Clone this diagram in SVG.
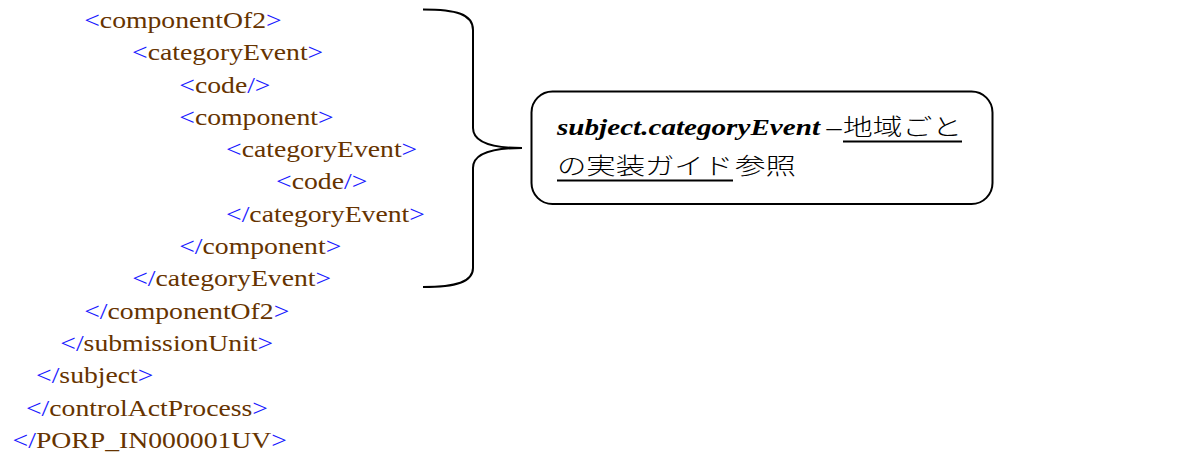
<svg xmlns="http://www.w3.org/2000/svg" width="1203" height="453" viewBox="0 0 1203 453">
<style>
.x{font-family:"Liberation Serif","Times New Roman",serif;font-size:24px;fill:#663300}
.b{fill:#1a1aff}
.bi{font-family:"Liberation Serif","Times New Roman",serif;font-size:24px;font-weight:bold;font-style:italic;fill:#000}
.r{font-family:"Liberation Serif","Times New Roman",serif;font-size:24px;fill:#000}
.cjk{font-family:"Noto Sans CJK JP","Noto Sans CJK SC",sans-serif;font-size:23px;font-weight:300;fill:#000}
.ln{fill:none;stroke:#000;stroke-width:2}
</style>
<rect width="1203" height="453" fill="#fff"/>
<g id="xml" transform="scale(1.155 1)">
<text class="x" x="72.9" y="28"><tspan class="b">&lt;</tspan>componentOf2<tspan class="b">&gt;</tspan></text>
<text class="x" x="114.3" y="60.3"><tspan class="b">&lt;</tspan>categoryEvent<tspan class="b">&gt;</tspan></text>
<text class="x" x="155.2" y="92.6"><tspan class="b">&lt;</tspan>code<tspan class="b">/&gt;</tspan></text>
<text class="x" x="155.2" y="124.9"><tspan class="b">&lt;</tspan>component<tspan class="b">&gt;</tspan></text>
<text class="x" x="195.7" y="157.2"><tspan class="b">&lt;</tspan>categoryEvent<tspan class="b">&gt;</tspan></text>
<text class="x" x="239" y="189.5"><tspan class="b">&lt;</tspan>code<tspan class="b">/&gt;</tspan></text>
<text class="x" x="195.7" y="221.8"><tspan class="b">&lt;/</tspan>categoryEvent<tspan class="b">&gt;</tspan></text>
<text class="x" x="155.2" y="254.1"><tspan class="b">&lt;/</tspan>component<tspan class="b">&gt;</tspan></text>
<text class="x" x="114.5" y="286.4"><tspan class="b">&lt;/</tspan>categoryEvent<tspan class="b">&gt;</tspan></text>
<text class="x" x="72.9" y="318.7"><tspan class="b">&lt;/</tspan>componentOf2<tspan class="b">&gt;</tspan></text>
<text class="x" x="52.2" y="351"><tspan class="b">&lt;/</tspan>submissionUnit<tspan class="b">&gt;</tspan></text>
<text class="x" x="31.2" y="383.3"><tspan class="b">&lt;/</tspan>subject<tspan class="b">&gt;</tspan></text>
<text class="x" x="22.5" y="415.6"><tspan class="b">&lt;/</tspan>controlActProcess<tspan class="b">&gt;</tspan></text>
<text class="x" x="10.9" y="447.9"><tspan class="b">&lt;/</tspan>PORP_IN000001UV<tspan class="b">&gt;</tspan></text>
</g>
<g id="connectors">
<path id="brace" class="ln" d="M423,9.5 C456,9.5 473,14 473,30 L473,128 C473,142 490,148 522,148 C490,148 473,154 473,168 L473,268 C473,282 456,287 423,287"/>
</g>
<g id="callout">
<rect x="531.5" y="91.5" width="461" height="112.5" rx="21" ry="21" fill="#fff" stroke="#000" stroke-width="2"/>
<text class="bi" x="557" y="135" textLength="263" lengthAdjust="spacingAndGlyphs">subject.categoryEvent</text>
<text class="r" x="826.5" y="135" textLength="15" lengthAdjust="spacingAndGlyphs">–</text>
<text class="cjk" x="843" y="135" textLength="119" lengthAdjust="spacingAndGlyphs">地域ごと</text>
<text class="cjk" x="557" y="174" textLength="176" lengthAdjust="spacingAndGlyphs">の実装ガイド</text>
<text class="cjk" x="735" y="174" textLength="61" lengthAdjust="spacingAndGlyphs">参照</text>
<line class="ln" x1="843" y1="141.5" x2="962" y2="141.5"/>
<line class="ln" x1="557" y1="180.5" x2="733" y2="180.5"/>
</g>
</svg>
